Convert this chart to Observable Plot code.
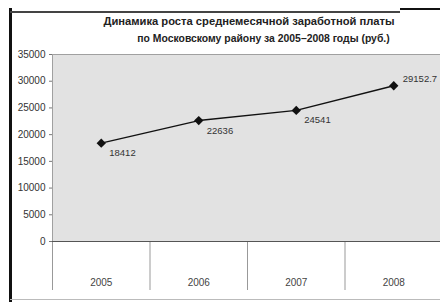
<!DOCTYPE html>
<html>
<head>
<meta charset="utf-8">
<script src="https://cdn.jsdelivr.net/npm/d3@7"></script>
<script src="https://cdn.jsdelivr.net/npm/@observablehq/plot@0.6"></script>
<style>
  html, body { margin: 0; padding: 0; background: #fff; }
  #wrap { position: relative; width: 440px; height: 302px; overflow: hidden; background: #fff; font-family: "Liberation Sans", Arial, sans-serif; }
  .t { position: absolute; left: 0; text-align: center; font-weight: bold; color: #222; white-space: nowrap; }
  .ln { position: absolute; }
  #chart { position: absolute; left: 0; top: 44px; }
</style>
</head>
<body>
<div id="wrap">
  <div class="ln" style="left:9px;top:8px;width:3px;height:294px;background:#111"></div>
  <div class="ln" style="left:10px;top:11px;width:390px;height:2px;background:#444"></div>
  <div class="ln" style="left:400px;top:8px;width:40px;height:2px;background:#111"></div>
  <div class="ln" style="left:10px;top:299px;width:430px;height:1px;background:#bbb"></div>
  <div class="t" id="t1" style="top:15px;width:498px;font-size:11.2px;">Динамика роста среднемесячной заработной платы</div>
  <div class="t" id="t2" style="top:33px;width:527px;font-size:10.4px;">по Московскому району за 2005–2008 годы (руб.)</div>
  <div id="chart"></div>
</div>
<script>
const years = [2005, 2006, 2007, 2008];
const wages = [18412, 22636, 24541, 29152.7];
const yTicks = [0, 5000, 10000, 15000, 20000, 25000, 30000, 35000];
const bandEdges = [2004.5, 2005.5, 2006.5, 2007.5];

const data = years.map((y, i) => ({year: y, wage: wages[i], idx: i}));
const below = data.filter(d => d.idx < 3);
const above = data.filter(d => d.idx === 3);

const chart = Plot.plot({
  width: 440,
  height: 258,
  marginTop: 10,
  marginBottom: 61,
  marginLeft: 52,
  marginRight: -2,
  x: {type: "linear", domain: [2004.5, 2008.5]},
  y: {domain: [0, 35000]},
  style: {fontFamily: "'Liberation Sans', Arial, sans-serif", fontSize: "10px", background: "transparent", color: "#333"},
  marks: [
    Plot.frame({fill: "#e2e2e2", stroke: "#a0a0a0"}),
    Plot.axisY({ticks: yTicks, tickSize: 3, tickPadding: 4, label: null, tickFormat: d => String(d), fill: "#333", stroke: "#777"}),
    Plot.axisX({ticks: bandEdges, tickSize: 49, text: null, label: null, stroke: "#999"}),
    Plot.axisX({ticks: years, tickSize: 0, tickPadding: 37, tickFormat: d => String(d), label: null, fill: "#444"}),
    Plot.ruleY([0], {stroke: "#555"}),
    Plot.line(data, {x: "year", y: "wage", stroke: "#111", strokeWidth: 1.4}),
    Plot.dot(data, {x: "year", y: "wage", symbol: "diamond2", r: 4.2, fill: "#111", stroke: "none"}),
    Plot.text(below, {x: "year", y: "wage", text: d => String(d.wage), textAnchor: "start", dx: 8, dy: 10, fill: "#333", fontSize: 9.5}),
    Plot.text(above, {x: "year", y: "wage", text: d => String(d.wage), textAnchor: "start", dx: 9, dy: -7, fill: "#333", fontSize: 9.5})
  ]
});
document.getElementById("chart").appendChild(chart);
</script>
</body>
</html>
